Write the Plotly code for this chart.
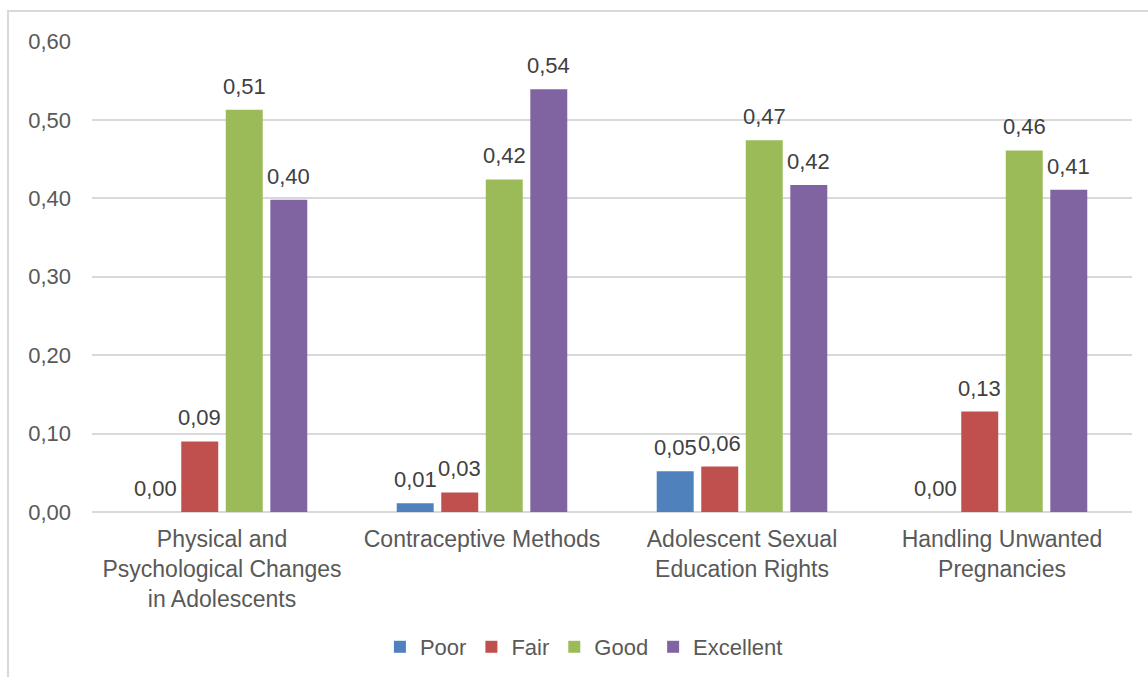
import plotly.graph_objects as go

categories = ["Physical and<br>Psychological Changes<br>in Adolescents",
              "Contraceptive Methods",
              "Adolescent Sexual<br>Education Rights",
              "Handling Unwanted<br>Pregnancies"]
series_names = ["Poor", "Fair", "Good", "Excellent"]
poor = [0.00, 0.011, 0.052, 0.00]
fair = [0.090, 0.025, 0.058, 0.128]
good = [0.513, 0.424, 0.474, 0.461]
excellent = [0.398, 0.539, 0.417, 0.411]
colors = ["#4F81BD", "#C0504D", "#9BBB59", "#8064A2"]
y_ticks = [0.0, 0.1, 0.2, 0.3, 0.4, 0.5, 0.6]

FONT = "Liberation Sans, Arial"
FS = 22
SLOT = 44.5  # px per bar slot inside a group

fig = go.Figure()
annotations = []
for i, (name, vals, col) in enumerate(zip(series_names, [poor, fair, good, excellent], colors)):
    fig.add_trace(go.Bar(
        x=categories, y=vals, name=name, marker_color=col,
        marker_line_width=0,
    ))
    for c, v in zip(categories, vals):
        annotations.append(dict(
            x=c, y=v, xref="x", yref="y", text=f"{v:.2f}".replace(".", ","),
            showarrow=False, xanchor="center", yanchor="bottom",
            xshift=(i - 1.5) * SLOT, yshift=9,
            font=dict(size=FS, color="#404040", family=FONT),
        ))

fig.update_layout(
    width=1148, height=677,
    separators=", ",
    barmode="group", bargap=0.315, bargroupgap=0.17,
    paper_bgcolor="white", plot_bgcolor="white",
    margin=dict(l=92, r=16, t=41, b=165, autoexpand=False),
    font=dict(family=FONT, size=FS, color="#595959"),
    legend=dict(orientation="h", x=0.473, xanchor="center", y=-0.242, yanchor="top",
                font=dict(size=FS, color="#595959"), itemwidth=30, traceorder="normal"),
    xaxis=dict(showgrid=False, showline=False, ticks="", ticklabelstandoff=11,
               automargin=False, tickfont=dict(size=23, color="#595959")),
    yaxis=dict(range=[0, 0.6005], tickvals=y_ticks, tickformat=".2f",
               showgrid=True, gridcolor="#D9D9D9", gridwidth=2, zeroline=True,
               zerolinecolor="#D9D9D9", zerolinewidth=2, showline=False, automargin=False,
               ticks="", ticklabelstandoff=20, tickfont=dict(size=FS, color="#595959")),
    annotations=annotations,
    shapes=[dict(type="rect", xref="paper", yref="paper",
                 x0=(8 - 92) / 1040, x1=1.2, y0=-0.4, y1=(677 - 11 - 165) / 471,
                 line=dict(color="#D9D9D9", width=2), fillcolor="rgba(0,0,0,0)", layer="below")],
)

fig.write_html("out.html")
